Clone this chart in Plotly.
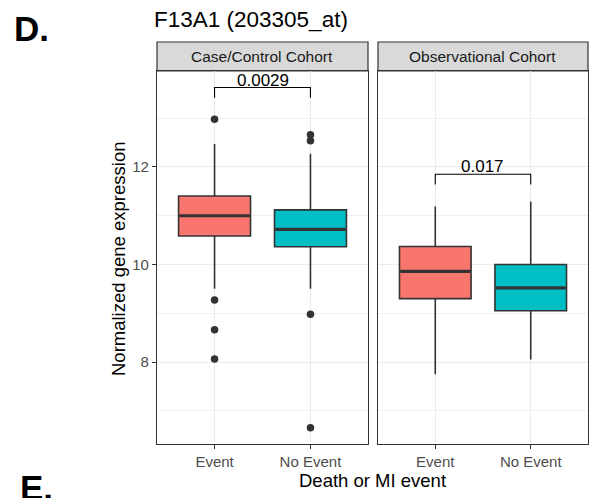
import plotly.graph_objects as go

# ---------------- data ----------------
panels = ["Case/Control Cohort", "Observational Cohort"]
groups = ["Event", "No Event"]
group_colors = ["#F8766D", "#00BFC4"]

cc_q1 = [10.585, 10.365]
cc_median = [11.0, 10.72]
cc_q3 = [11.405, 11.12]
cc_lower = [9.50, 9.50]
cc_upper = [12.47, 12.27]
cc_outliers_event = [12.98, 9.27, 8.66, 8.06]
cc_outliers_noevent = [12.66, 12.54, 8.98, 6.65]

obs_q1 = [9.30, 9.05]
obs_median = [9.86, 9.52]
obs_q3 = [10.37, 10.00]
obs_lower = [7.75, 8.05]
obs_upper = [11.19, 11.29]
obs_outliers_event = []
obs_outliers_noevent = []

p_values = ["0.0029", "0.017"]
bracket_top = [13.63, 11.85]

y_ticks = [8, 10, 12]
y_minor = [7, 9, 11, 13]

title_text = "F13A1 (203305_at)"
x_title = "Death or MI event"
y_title = "Normalized gene expression"

# ---------------- figure ----------------
FONT = "Liberation Sans, Arial, Helvetica, sans-serif"
OFF = 8                      # default page body margin
W, H = 605 - OFF, 498 - OFF  # figure size so that it fits the window
BOX_W = 0.75
TIP = 0.21
LINE = "#333333"


def px(x):
    return (x - OFF) / W


def py(y):
    return 1 - (y - OFF) / H


fig = go.Figure()

panel_data = [
    (cc_q1, cc_median, cc_q3, cc_lower, cc_upper, [cc_outliers_event, cc_outliers_noevent]),
    (obs_q1, obs_median, obs_q3, obs_lower, obs_upper, [obs_outliers_event, obs_outliers_noevent]),
]

for pi, (q1, med, q3, lo, hi, outs) in enumerate(panel_data):
    xa = "x" if pi == 0 else "x2"
    ya = "y" if pi == 0 else "y2"
    for gi, g in enumerate(groups):
        fig.add_trace(go.Box(
            x=[gi], q1=[q1[gi]], median=[med[gi]], q3=[q3[gi]],
            lowerfence=[lo[gi]], upperfence=[hi[gi]],
            width=BOX_W, fillcolor=group_colors[gi],
            line=dict(color=LINE, width=1.6), boxpoints=False,
            whiskerwidth=0, xaxis=xa, yaxis=ya, showlegend=False,
            name=g,
        ))
        # thicker median line (ggplot style)
        fig.add_trace(go.Scatter(
            x=[gi - BOX_W / 2 + 0.01, gi + BOX_W / 2 - 0.01], y=[med[gi], med[gi]],
            mode="lines", line=dict(color=LINE, width=3.2),
            xaxis=xa, yaxis=ya, showlegend=False, hoverinfo="skip",
        ))
        if outs[gi]:
            fig.add_trace(go.Scatter(
                x=[gi] * len(outs[gi]), y=outs[gi], mode="markers",
                marker=dict(color=LINE, size=7.5),
                xaxis=xa, yaxis=ya, showlegend=False,
            ))
    # significance bracket
    bt = bracket_top[pi]
    fig.add_trace(go.Scatter(
        x=[0, 0, 1, 1], y=[bt - TIP, bt, bt, bt - TIP], mode="lines",
        line=dict(color="black", width=1.1),
        xaxis=xa, yaxis=ya, showlegend=False, hoverinfo="skip",
    ))
    fig.add_annotation(
        x=0.5, y=bt, xref=xa, yref=ya, text=p_values[pi], showarrow=False,
        yanchor="bottom", yshift=-4, font=dict(family=FONT, size=17, color="black"),
    )

x_domains = [[px(157), px(368)], [px(378), px(588)]]
y_domain = [py(444), py(71)]
y_range = [6.318, 13.969]

axis_common = dict(
    showline=True, mirror=True, linecolor=LINE, linewidth=1.2,
    gridcolor="#EBEBEB", gridwidth=1.1, zeroline=False,
    ticklen=4, tickcolor=LINE, tickwidth=1,
    tickfont=dict(family=FONT, size=15, color="#4D4D4D"),
    automargin=False,
)

for i, dom in enumerate(x_domains):
    key = "xaxis" if i == 0 else "xaxis2"
    fig.layout[key] = dict(
        domain=dom, range=[-0.6, 1.6], tickmode="array",
        tickvals=[0, 1], ticktext=groups, anchor="y" if i == 0 else "y2",
        showgrid=True, ticks="outside", **axis_common,
    )
    ykey = "yaxis" if i == 0 else "yaxis2"
    fig.layout[ykey] = dict(
        domain=y_domain, range=y_range, tickmode="array", tickvals=y_ticks,
        ticktext=[str(t) for t in y_ticks], anchor="x" if i == 0 else "x2",
        showticklabels=(i == 0), ticks="outside" if i == 0 else "",
        matches=None if i == 0 else "y",
        minor=dict(tickvals=y_minor, showgrid=True, gridcolor="#F0F0F0", gridwidth=0.6, ticks=""),
        showgrid=True, **axis_common,
    )

# strips
for i, dom in enumerate(x_domains):
    fig.add_shape(type="rect", xref="paper", yref="paper",
                  x0=dom[0], x1=dom[1], y0=py(71), y1=py(42),
                  fillcolor="#D9D9D9", line=dict(color=LINE, width=1.2), layer="below")
    fig.add_annotation(x=(dom[0] + dom[1]) / 2, y=py(56.5), xref="paper", yref="paper",
                       text=panels[i], showarrow=False, xanchor="center", yanchor="middle",
                       font=dict(family=FONT, size=15.5, color="#1A1A1A"))

# titles
fig.add_annotation(x=px(152), y=py(20), xref="paper", yref="paper", text=title_text,
                   showarrow=False, xanchor="left", yanchor="middle",
                   font=dict(family=FONT, size=22.5, color="black"))
fig.add_annotation(x=px((157 + 588) / 2), y=py(480), xref="paper", yref="paper", text=x_title,
                   showarrow=False, xanchor="center", yanchor="middle",
                   font=dict(family=FONT, size=18.5, color="black"))
fig.add_annotation(x=px(118), y=py(259), xref="paper", yref="paper", text=y_title,
                   showarrow=False, xanchor="center", yanchor="middle", textangle=-90,
                   font=dict(family=FONT, size=18.5, color="black"))
fig.add_annotation(x=px(12), y=py(29), xref="paper", yref="paper", text="<b>D.</b>",
                   showarrow=False, xanchor="left", yanchor="middle",
                   font=dict(family=FONT, size=35, color="black"))
fig.add_annotation(x=px(18), y=py(487), xref="paper", yref="paper", text="<b>E.</b>",
                   showarrow=False, xanchor="left", yanchor="middle",
                   font=dict(family=FONT, size=35, color="black"))

fig.update_layout(
    width=W, height=H, margin=dict(l=0, r=0, t=0, b=0),
    paper_bgcolor="white", plot_bgcolor="white", boxmode="overlay",
    showlegend=False,
)

fig.write_html("out.html")
